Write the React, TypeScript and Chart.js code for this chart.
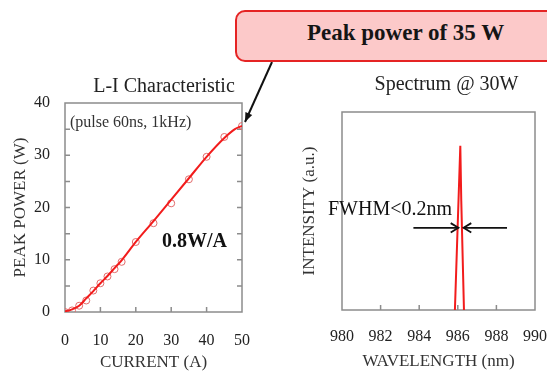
import React, { useEffect, useRef } from "react";
import { Chart, registerables } from "chart.js";

Chart.register(...registerables);

const FONT = "'Liberation Serif', 'Times New Roman', serif";

// L-I characteristic (measured points)
const currentA = [0, 2, 4, 6, 8, 10, 12, 14, 16, 20, 25, 30, 35, 40, 45, 50];
const peakPowerW = [0, 0.3, 1.2, 2.2, 4.1, 5.5, 6.8, 8.2, 9.6, 13.4, 17, 20.8, 25.4, 29.7, 33.5, 35.6];
// L-I fitted curve
const fitCurrentA = [0, 2, 4, 6, 8, 10, 12, 14, 16, 20, 25, 30, 35, 40, 45, 48, 50];
const fitPowerW = [0.1, 0.5, 1.2, 2.6, 4.0, 5.5, 6.9, 8.4, 9.9, 13.4, 17.4, 21.5, 25.6, 29.7, 33.3, 35.0, 35.6];
// Spectrum @ 30W
const wavelengthNm = [985.85, 986.13, 986.18, 986.32];
const intensityAU = [0, 0.83, 0.55, 0];
const halfMax = 0.415;

// tick labels / tick marks
const currentTicks = [0, 10, 20, 30, 40, 50];
const powerTicks = [0, 10, 20, 30, 40];
const wavelengthTicks = [980, 982, 984, 986, 988, 990];
const currentMarks = [10, 20, 30, 40];
const powerMarks = [5, 10, 15, 20, 25, 30, 35];
const wavelengthMarks = [982, 984, 986, 988];

const FRAME = "#8c8c8c";
const TEXT = "#222";

function framePlugin(xMarks: number[], yMarks: number[], yRight: boolean) {
  return {
    id: "frame",
    beforeDatasetsDraw(chart: any) {
      const { ctx, chartArea: a, scales } = chart;
      ctx.save();
      ctx.strokeStyle = FRAME;
      ctx.lineWidth = 1.5;
      ctx.strokeRect(a.left, a.top, a.right - a.left, a.bottom - a.top);
      ctx.beginPath();
      for (const v of xMarks) {
        const px = scales.x.getPixelForValue(v);
        ctx.moveTo(px, a.bottom);
        ctx.lineTo(px, a.bottom - 5);
      }
      for (const v of yMarks) {
        const py = scales.y.getPixelForValue(v);
        ctx.moveTo(a.left, py);
        ctx.lineTo(a.left + 5, py);
        if (yRight) {
          ctx.moveTo(a.right, py);
          ctx.lineTo(a.right - 5, py);
        }
      }
      ctx.stroke();
      ctx.restore();
    },
  };
}

function drawArrowHead(ctx: any, x1: number, y1: number, x2: number, y2: number, filled: boolean) {
  const ang = Math.atan2(y2 - y1, x2 - x1);
  const len = filled ? 10 : 9;
  const wid = filled ? 0.38 : 0.55;
  ctx.beginPath();
  ctx.moveTo(x2 - len * Math.cos(ang - wid), y2 - len * Math.sin(ang - wid));
  ctx.lineTo(x2, y2);
  ctx.lineTo(x2 - len * Math.cos(ang + wid), y2 - len * Math.sin(ang + wid));
  if (filled) {
    ctx.closePath();
    ctx.fill();
  } else {
    ctx.stroke();
  }
}

const leftTextPlugin = {
  id: "leftText",
  afterDraw(chart: any) {
    const { ctx, chartArea: a, scales } = chart;
    ctx.save();
    ctx.fillStyle = TEXT;
    ctx.textBaseline = "middle";
    ctx.textAlign = "center";
    ctx.font = `20px ${FONT}`;
    ctx.fillText("L-I Characteristic", a.left + 99, a.top - 16);
    ctx.textAlign = "left";
    ctx.fillStyle = "#333";
    ctx.font = `16px ${FONT}`;
    ctx.fillText("(pulse 60ns, 1kHz)", a.left + 5, a.top + 20);
    ctx.fillStyle = "#111";
    ctx.font = `bold 20px ${FONT}`;
    ctx.fillText("0.8W/A", a.left + 97, a.top + 139);
    // arrow from callout to peak point
    const last = currentA.length - 1;
    const tx = scales.x.getPixelForValue(currentA[last]) + 3;
    const ty = scales.y.getPixelForValue(peakPowerW[last]) - 4;
    const sx = 272;
    const sy = 62;
    ctx.strokeStyle = "#111";
    ctx.fillStyle = "#111";
    ctx.lineWidth = 2;
    ctx.beginPath();
    ctx.moveTo(sx, sy);
    ctx.lineTo(tx, ty);
    ctx.stroke();
    drawArrowHead(ctx, sx, sy, tx, ty, true);
    ctx.restore();
  },
};

const rightTextPlugin = {
  id: "rightText",
  afterDraw(chart: any) {
    const { ctx, chartArea: a, scales } = chart;
    ctx.save();
    ctx.fillStyle = TEXT;
    ctx.textBaseline = "middle";
    ctx.textAlign = "center";
    ctx.font = `20px ${FONT}`;
    ctx.fillText("Spectrum @ 30W", (a.left + a.right) / 2 + 8, a.top - 27);
    const yh = scales.y.getPixelForValue(halfMax);
    ctx.textAlign = "left";
    ctx.fillStyle = "#111";
    ctx.font = `20px ${FONT}`;
    ctx.fillText("FWHM<0.2nm", a.left - 14, yh - 18);
    ctx.strokeStyle = "#111";
    ctx.lineWidth = 1.8;
    const l1 = scales.x.getPixelForValue(983.7);
    const l2 = scales.x.getPixelForValue(986.03);
    const r1 = scales.x.getPixelForValue(988.55);
    const r2 = scales.x.getPixelForValue(986.3);
    ctx.beginPath();
    ctx.moveTo(l1, yh);
    ctx.lineTo(l2, yh);
    ctx.moveTo(r1, yh);
    ctx.lineTo(r2, yh);
    ctx.stroke();
    drawArrowHead(ctx, l1, yh, l2, yh, false);
    drawArrowHead(ctx, r1, yh, r2, yh, false);
    ctx.restore();
  },
};

function tickFont() {
  return { family: FONT, size: 16 };
}

function fixHeight(h: number) {
  return (s: any) => {
    s.height = h;
    s.paddingLeft = 0;
    s.paddingRight = 0;
  };
}

function fixWidth(w: number) {
  return (s: any) => {
    s.width = w;
    s.paddingTop = 0;
    s.paddingBottom = 0;
  };
}

export default function App() {
  const leftRef = useRef<HTMLCanvasElement | null>(null);
  const rightRef = useRef<HTMLCanvasElement | null>(null);

  useEffect(() => {
    const left = new Chart(leftRef.current as HTMLCanvasElement, {
      type: "scatter",
      data: {
        datasets: [
          {
            label: "fit",
            data: fitCurrentA.map((x, i) => ({ x, y: fitPowerW[i] })),
            showLine: true,
            borderColor: "#f21c1c",
            borderWidth: 2,
            pointRadius: 0,
            tension: 0.4,
            cubicInterpolationMode: "monotone",
            order: 1,
          } as any,
          {
            label: "measured",
            data: currentA.map((x, i) => ({ x, y: peakPowerW[i] })),
            showLine: false,
            pointStyle: "circle",
            pointRadius: 3.5,
            borderColor: "#e26a6a",
            backgroundColor: "rgba(0,0,0,0)",
            pointBorderWidth: 1,
            order: 2,
          } as any,
        ],
      },
      options: {
        responsive: false,
        animation: false,
        devicePixelRatio: 1,
        layout: { padding: { left: 0, right: 38, top: 103, bottom: 0 } },
        plugins: { legend: { display: false }, tooltip: { enabled: false } },
        scales: {
          x: {
            type: "linear",
            position: "bottom",
            min: 0,
            max: 50,
            afterBuildTicks: (s: any) => {
              s.ticks = currentTicks.map((value) => ({ value }));
            },
            afterFit: fixHeight(60),
            grid: { display: false, drawTicks: false },
            border: { display: false },
            ticks: { font: tickFont(), color: TEXT, padding: 19, maxRotation: 0, autoSkip: false },
            title: {
              display: true,
              text: "CURRENT (A)",
              color: "#333",
              font: { family: FONT, size: 17, lineHeight: 1 },
              padding: { top: 0, bottom: 0.5 },
            },
          },
          y: {
            type: "linear",
            min: 0,
            max: 40,
            afterBuildTicks: (s: any) => {
              s.ticks = powerTicks.map((value) => ({ value }));
            },
            afterFit: fixWidth(65),
            grid: { display: false, drawTicks: false },
            border: { display: false },
            ticks: { font: tickFont(), color: TEXT, padding: 15 },
            title: {
              display: true,
              text: "PEAK POWER (W)",
              color: "#333",
              font: { family: FONT, size: 17, lineHeight: 1 },
              padding: { top: 12, bottom: 0 },
            },
          },
        },
      } as any,
      plugins: [framePlugin(currentMarks, powerMarks, true), leftTextPlugin],
    });

    const right = new Chart(rightRef.current as HTMLCanvasElement, {
      type: "scatter",
      data: {
        datasets: [
          {
            label: "spectrum",
            data: wavelengthNm.map((x, i) => ({ x, y: intensityAU[i] })),
            showLine: true,
            borderColor: "#f21c1c",
            borderWidth: 2,
            pointRadius: 0,
            tension: 0,
          } as any,
        ],
      },
      options: {
        responsive: false,
        animation: false,
        devicePixelRatio: 1,
        layout: { padding: { left: 0, right: 12, top: 112, bottom: 0 } },
        plugins: { legend: { display: false }, tooltip: { enabled: false } },
        scales: {
          x: {
            type: "linear",
            position: "bottom",
            min: 980,
            max: 990,
            afterBuildTicks: (s: any) => {
              s.ticks = wavelengthTicks.map((value) => ({ value }));
            },
            afterFit: fixHeight(62),
            grid: { display: false, drawTicks: false },
            border: { display: false },
            ticks: { font: tickFont(), color: TEXT, padding: 17, maxRotation: 0, autoSkip: false },
            title: {
              display: true,
              text: "WAVELENGTH (nm)",
              color: "#333",
              font: { family: FONT, size: 17, lineHeight: 1 },
              padding: { top: 0, bottom: 1.5 },
            },
          },
          y: {
            type: "linear",
            min: 0,
            max: 1,
            afterFit: fixWidth(62),
            grid: { display: false, drawTicks: false },
            border: { display: false },
            ticks: { display: false },
            title: {
              display: true,
              text: "INTENSITY (a.u.)",
              color: "#333",
              font: { family: FONT, size: 17, lineHeight: 1 },
              padding: { top: 21.5, bottom: 0 },
            },
          },
        },
      } as any,
      plugins: [framePlugin(wavelengthMarks, [], false), rightTextPlugin],
    });

    return () => {
      left.destroy();
      right.destroy();
    };
  }, []);

  return (
    <div
      style={{
        position: "fixed",
        left: 0,
        top: 0,
        width: 547,
        height: 372,
        overflow: "hidden",
        background: "#fff",
      }}
    >
      <canvas
        ref={leftRef}
        width={280}
        height={372}
        style={{ position: "absolute", left: 0, top: 0, width: 280, height: 372 }}
      />
      <canvas
        ref={rightRef}
        width={267}
        height={372}
        style={{ position: "absolute", left: 280, top: 0, width: 267, height: 372 }}
      />
      <div
        style={{
          position: "absolute",
          left: 235,
          top: 10,
          width: 340,
          height: 52,
          boxSizing: "border-box",
          border: "2px solid #e52424",
          borderRadius: 10,
          background: "#fcc9c9",
          paddingLeft: 70,
          lineHeight: "42px",
          fontFamily: FONT,
          fontWeight: "bold",
          fontSize: 23,
          color: "#151515",
          whiteSpace: "nowrap",
          zIndex: 2,
        }}
      >
        Peak power of 35 W
      </div>
    </div>
  );
}
